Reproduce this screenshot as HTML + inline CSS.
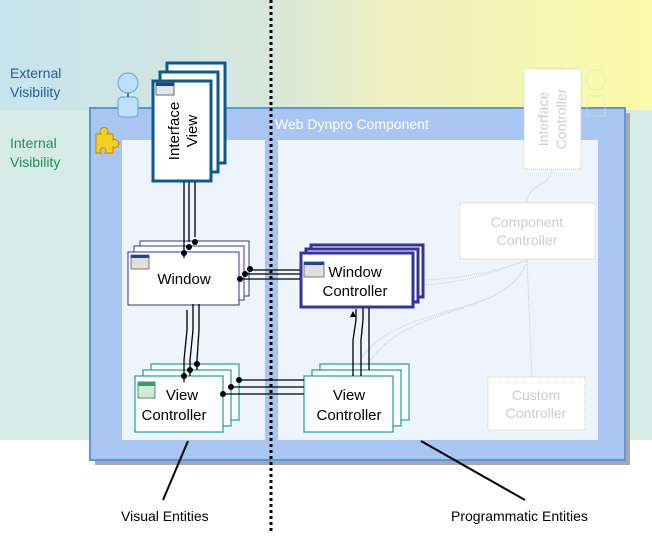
<!DOCTYPE html>
<html><head><meta charset="utf-8"><style>
html,body{margin:0;padding:0;background:#fff;}
svg{display:block;font-family:"Liberation Sans",sans-serif;}
</style></head><body>
<svg width="652" height="538" viewBox="0 0 652 538" xmlns="http://www.w3.org/2000/svg">
<defs>
<linearGradient id="top" x1="0" x2="1" y1="0" y2="0">
<stop offset="0" stop-color="#c6e4ee"/><stop offset="0.4" stop-color="#d6e6dc"/><stop offset="0.6" stop-color="#eef0c0"/><stop offset="1" stop-color="#fbfaa8"/>
</linearGradient>
</defs>
<rect x="0" y="0" width="652" height="538" fill="#fff"/>
<rect x="0" y="0" width="652" height="110" fill="url(#top)"/>
<rect x="0" y="110" width="652" height="330" fill="#d5ebe5"/>
<!-- component -->
<rect x="95" y="113" width="535" height="352" fill="#a8a8a8"/>
<rect x="90" y="108" width="535" height="352" fill="#a9c6f2" stroke="#5a96dc" stroke-width="2"/>
<rect x="122" y="140" width="143" height="300" fill="#edf4fc"/>
<rect x="278" y="140" width="320" height="300" fill="#edf4fc"/>
<text x="275" y="129" font-size="14" fill="#fff">Web Dynpro Component</text>
<!-- labels -->
<text x="10" y="78" font-size="14" fill="#2a5a9a">External</text>
<text x="10" y="97" font-size="14" fill="#2a5a9a">Visibility</text>
<text x="10" y="148" font-size="14" fill="#2a8a5a">Internal</text>
<text x="10" y="167" font-size="14" fill="#2a8a5a">Visibility</text>
<!-- interface icon -->
<circle cx="128" cy="83" r="10" fill="#bfe0fa" stroke="#5aa0e0"/>
<rect x="118" y="97" width="20" height="20" rx="4" fill="#bfe0fa" stroke="#5aa0e0"/>
<line x1="128" y1="93" x2="128" y2="97" stroke="#000"/>
<!-- puzzle -->
<path d="M96 134 h5 a4 4 0 1 1 6 0 h6 v6 a4 4 0 1 1 0 7 v6 h-8 a3 3 0 1 0 -4 0 h-5 z" fill="#f4d020" stroke="#d08000"/>
<!-- interface controller & small icon (faint) -->
<rect x="524" y="69" width="57" height="100" fill="#fff" stroke="#ccc" stroke-dasharray="1 1"/>
<text transform="translate(548,119) rotate(-90)" text-anchor="middle" font-size="14" fill="#ccc">Interface</text>
<text transform="translate(566,119) rotate(-90)" text-anchor="middle" font-size="14" fill="#ccc">Controller</text>
<circle cx="596" cy="80" r="10" fill="none" stroke="#ddd" stroke-dasharray="1 1"/>
<rect x="587" y="96" width="18" height="20" fill="none" stroke="#ddd" stroke-dasharray="1 1"/>
<rect x="460" y="203" width="135" height="56" fill="#fff" stroke="#ccc" stroke-dasharray="1 1"/>
<text x="527" y="227" text-anchor="middle" font-size="14" fill="#ccc">Component</text>
<text x="527" y="245" text-anchor="middle" font-size="14" fill="#ccc">Controller</text>
<rect x="488" y="377" width="97" height="53" fill="#fff" stroke="#ccc" stroke-dasharray="1 1"/>
<text x="536" y="400" text-anchor="middle" font-size="14" fill="#ccc">Custom</text>
<text x="536" y="418" text-anchor="middle" font-size="14" fill="#ccc">Controller</text>
<g fill="none" stroke="#ccc" stroke-dasharray="1 1">
<path d="M552 170 C548 190 530 180 527 203"/>
<path d="M527 260 C 500 270 470 278 425 280"/>
<path d="M527 260 C 500 270 470 282 425 285"/>
<path d="M527 260 C 510 320 400 300 360 360"/>
<path d="M527 260 C 510 320 400 300 365 370"/>
<path d="M527 260 L 532 377"/>
</g>
<!-- interface view -->
<g stroke="#0a5a8e" stroke-width="3" fill="#fff">
<rect x="167" y="63" width="58" height="100"/>
<rect x="160" y="72" width="58" height="100"/>
<rect x="153" y="81" width="58" height="100"/>
</g>
<rect x="156" y="83" width="18" height="12" fill="#dde8e8" stroke="#667"/><rect x="156" y="83" width="18" height="3" fill="#2040a0"/>
<text transform="translate(179,131) rotate(-90)" text-anchor="middle" font-size="15" fill="#000">Interface</text>
<text transform="translate(197,131) rotate(-90)" text-anchor="middle" font-size="15" fill="#000">View</text>
<!-- window -->
<g stroke="#333399" stroke-width="1" fill="#fff">
<rect x="140" y="241" width="109" height="55"/>
<rect x="134" y="246" width="110" height="54"/>
<rect x="128" y="252" width="111" height="53"/>
</g>
<rect x="131" y="255" width="18" height="14" fill="#e0e0d8" stroke="#777"/><rect x="131" y="255" width="18" height="3" fill="#2040a0"/>
<text x="184" y="284" text-anchor="middle" font-size="15">Window</text>
<!-- window controller -->
<g stroke="#333399" stroke-width="3" fill="#fff">
<rect x="311" y="245" width="112" height="52"/>
<rect x="306" y="249" width="112" height="53"/>
<rect x="301" y="253" width="112" height="54"/>
</g>
<rect x="304" y="262" width="20" height="15" fill="#e0e0d8" stroke="#777"/><rect x="304" y="262" width="20" height="3" fill="#2040a0"/>
<text x="355" y="277" text-anchor="middle" font-size="15">Window</text>
<text x="355" y="296" text-anchor="middle" font-size="15">Controller</text>
<!-- view controllers -->
<g stroke="#17a0a0" stroke-width="1.2" fill="#fff">
<rect x="151" y="364" width="88" height="56"/>
<rect x="143" y="370" width="88" height="56"/>
<rect x="135" y="376" width="88" height="56"/>
<rect x="320" y="364" width="89" height="56"/>
<rect x="312" y="370" width="89" height="56"/>
<rect x="304" y="376" width="89" height="56"/>
</g>
<rect x="138" y="382" width="17" height="16" fill="#d8e8d8" stroke="#3a9a6a"/><rect x="138" y="382" width="17" height="4" fill="#3a9a6a"/>
<text x="182" y="400" text-anchor="middle" font-size="15">View</text>
<text x="174" y="420" text-anchor="middle" font-size="15">Controller</text>
<text x="349" y="400" text-anchor="middle" font-size="15">View</text>
<text x="349" y="420" text-anchor="middle" font-size="15">Controller</text>
<!-- connectors -->
<g stroke="#000" stroke-width="1.3" fill="none">
<path d="M184 182 V258"/><path d="M189 182 V242"/><path d="M195 182 V237"/>
<path d="M199 304 V330 L197 360 V370"/><path d="M193 304 V330 L190 360 V376"/><path d="M187 310 V330 L184 360 V382"/>
<path d="M240 279 H300"/><path d="M245 274 H300"/><path d="M250 270 H300"/>
<path d="M237 380 H304"/><path d="M229 387 H304"/><path d="M221 394 H304"/>
<path d="M353 376 V340 L356 320 V309"/><path d="M361 376 V340 L363 320 V308"/><path d="M369 370 V308"/>
</g>
<g fill="#000">
<circle cx="184" cy="253" r="3"/><circle cx="189" cy="247" r="3"/><circle cx="195" cy="242" r="3"/>
<circle cx="197" cy="364" r="3"/><circle cx="190" cy="370" r="3"/><circle cx="184" cy="376" r="3"/>
<circle cx="240" cy="279" r="3"/><circle cx="245" cy="274" r="3"/><circle cx="250" cy="269" r="3"/>
<circle cx="239" cy="380" r="3"/><circle cx="231" cy="387" r="3"/><circle cx="223" cy="394" r="3"/>
<path d="M353 311 l-3 6 h6 z"/>
</g>
<!-- dotted divider -->
<line x1="271" y1="0" x2="271" y2="532" stroke="#000" stroke-width="3" stroke-dasharray="3 3"/>
<!-- leaders -->
<line x1="188" y1="441" x2="163" y2="500" stroke="#000" stroke-width="2"/>
<line x1="421" y1="441" x2="525" y2="500" stroke="#000" stroke-width="2"/>
<text x="121" y="521" font-size="14">Visual Entities</text>
<text x="451" y="521" font-size="14">Programmatic Entities</text>
</svg>
</body></html>
